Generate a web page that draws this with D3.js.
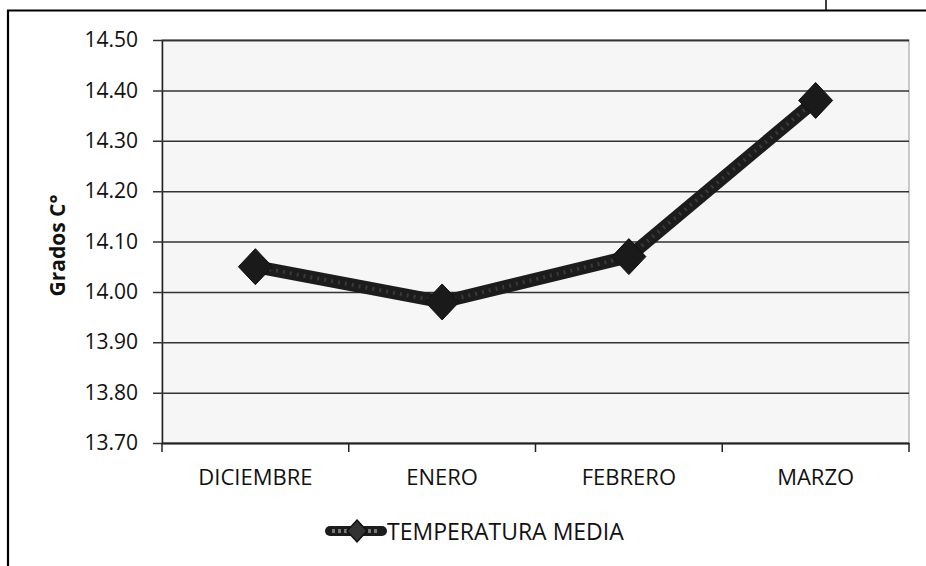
<!DOCTYPE html>
<html>
<head>
<meta charset="utf-8">
<script src="https://cdn.jsdelivr.net/npm/d3@7"></script>
<style>
  html, body { margin: 0; padding: 0; background: #fff; }
  svg { display: block; }
  text { font-family: "Open Sans", "Noto Sans", sans-serif; fill: #111; }
</style>
</head>
<body>
<svg id="chart" width="926" height="566"></svg>
<script>
// ---- data ----
const categories = ["DICIEMBRE", "ENERO", "FEBRERO", "MARZO"];
const temperaturaMedia = [14.05, 13.98, 14.07, 14.38];
const yTicks = [13.70, 13.80, 13.90, 14.00, 14.10, 14.20, 14.30, 14.40, 14.50];
const seriesName = "TEMPERATURA MEDIA";
const yTitle = "Grados C°";

// ---- layout ----
const svg = d3.select("#chart");
const plot = { left: 162, right: 909, top: 40, bottom: 443 };

const x = d3.scaleBand().domain(categories).range([plot.left, plot.right]).padding(0);
const y = d3.scaleLinear().domain([13.70, 14.50]).range([plot.bottom, plot.top]);

// outer frame (scanned border)
svg.append("line").attr("x1", 8).attr("x2", 8).attr("y1", 10).attr("y2", 566)
  .attr("stroke", "#000").attr("stroke-width", 2.2);
svg.append("line").attr("x1", 7).attr("x2", 926).attr("y1", 10.5).attr("y2", 10.5)
  .attr("stroke", "#000").attr("stroke-width", 2);
svg.append("line").attr("x1", 826).attr("x2", 826).attr("y1", 0).attr("y2", 10)
  .attr("stroke", "#000").attr("stroke-width", 1.5);

// plot background
svg.append("rect").attr("x", plot.left).attr("y", plot.top)
  .attr("width", plot.right - plot.left).attr("height", plot.bottom - plot.top)
  .attr("fill", "#f6f6f6").attr("stroke", "#999").attr("stroke-width", 1);

// y axis with gridlines
const yAxis = d3.axisLeft(y).tickValues(yTicks).tickFormat(d3.format(".2f"))
  .tickSize(-(plot.right - plot.left)).tickPadding(24);
const gy = svg.append("g").attr("transform", `translate(${plot.left},0)`).call(yAxis);
gy.select(".domain").attr("stroke", "#222").attr("stroke-width", 1.5);
gy.selectAll(".tick line").attr("stroke", "#333").attr("stroke-width", 1.5)
  .attr("x1", -9);
gy.selectAll(".tick text").attr("font-size", 21).attr("fill", "#111")
  .attr("font-family", "'Open Sans', sans-serif");

// x axis
const xAxis = d3.axisBottom(x).tickSize(0).tickPadding(26);
const gx = svg.append("g").attr("transform", `translate(0,${plot.bottom})`).call(xAxis);
gx.select(".domain").attr("stroke", "#222").attr("stroke-width", 1.5);
gx.selectAll(".tick text").attr("font-size", 22).attr("fill", "#111")
  .attr("font-family", "'Open Sans', sans-serif");
// category boundary ticks
const bounds = categories.map(c => x(c)).concat([x(categories[categories.length - 1]) + x.bandwidth()]);
svg.append("g").selectAll("line").data(bounds).join("line")
  .attr("x1", d => d).attr("x2", d => d)
  .attr("y1", plot.bottom).attr("y2", plot.bottom + 9)
  .attr("stroke", "#222").attr("stroke-width", 1.5);

// y title
svg.append("text")
  .attr("transform", `translate(65,${(plot.top + plot.bottom) / 2 + 4}) rotate(-90)`)
  .attr("text-anchor", "middle").attr("font-size", 21).attr("font-weight", "bold")
  .text(yTitle);

// series line
const cx = d => x(d) + x.bandwidth() / 2;
const line = d3.line().x((d, i) => cx(categories[i])).y(d => y(d));
svg.append("path").datum(temperaturaMedia)
  .attr("d", line).attr("fill", "none")
  .attr("stroke", "#1c1c1c").attr("stroke-width", 13)
  .attr("stroke-linejoin", "round");
svg.append("path").datum(temperaturaMedia)
  .attr("d", line).attr("fill", "none")
  .attr("stroke", "#3a3a3a").attr("stroke-width", 4)
  .attr("stroke-linejoin", "round").attr("stroke-dasharray", "2 5");

// markers (diamonds)
const diamond = (hw, hh) => `M0,${-hh}L${hw},0L0,${hh}L${-hw},0Z`;
svg.append("g").selectAll("path").data(temperaturaMedia).join("path")
  .attr("transform", (d, i) => `translate(${cx(categories[i])},${y(d)})`)
  .attr("d", diamond(17, 18))
  .attr("fill", "#1a1a1a").attr("stroke", "#111").attr("stroke-width", 1);

// legend
const lg = svg.append("g").attr("transform", "translate(0,531)");
lg.append("line").attr("x1", 330).attr("x2", 382).attr("y1", 0).attr("y2", 0)
  .attr("stroke", "#1c1c1c").attr("stroke-width", 10).attr("stroke-linecap", "round");
lg.append("line").attr("x1", 332).attr("x2", 380).attr("y1", 0).attr("y2", 0)
  .attr("stroke", "#777").attr("stroke-width", 4).attr("stroke-dasharray", "3 3");
lg.append("path").attr("transform", "translate(357,0)").attr("d", diamond(10, 11))
  .attr("fill", "#333").attr("stroke", "#111").attr("stroke-width", 1.5);
lg.append("text").attr("x", 387).attr("y", 9).attr("font-size", 23)
  .text(seriesName);
</script>
</body>
</html>
